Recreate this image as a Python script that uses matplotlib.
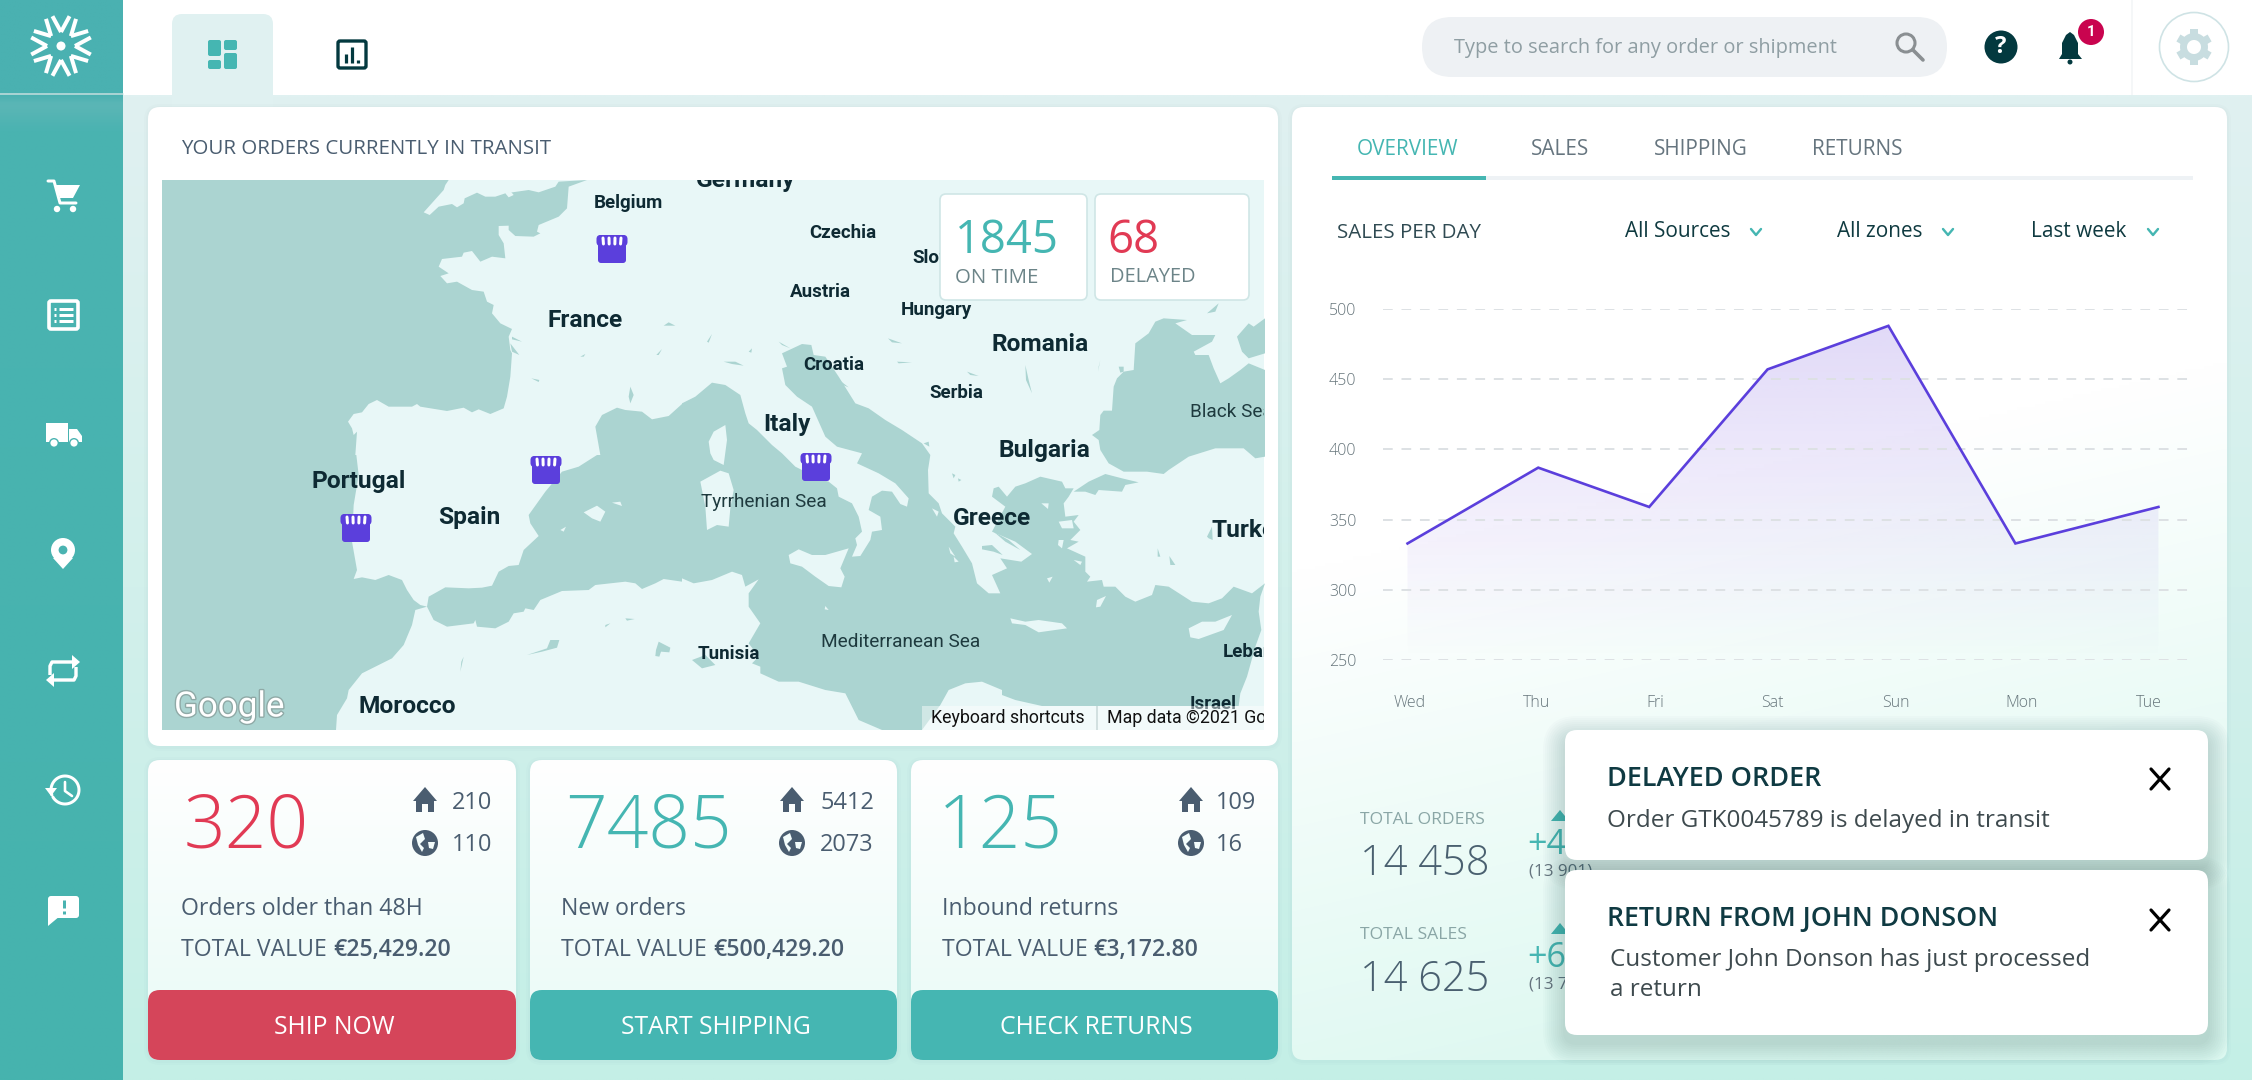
import numpy as np
import matplotlib
matplotlib.use("Agg")
import matplotlib.pyplot as plt
import matplotlib.patheffects as pe
from matplotlib.patches import FancyBboxPatch, Polygon, Circle, Rectangle
from matplotlib.colors import to_rgb

W, H = 2252, 1080

# chart data
days = ["Wed", "Thu", "Fri", "Sat", "Sun", "Mon", "Tue"]
day_pos = [-0.02, 1.04, 1.94, 2.90, 3.88, 4.91, 6.07]
tick_pos = [0, 1.03, 1.99, 2.94, 3.94, 4.96, 5.99]
sales = [333, 387, 359, 457, 488, 333, 359]
y_ticks = [250, 300, 350, 400, 450, 500]

# card data
card_nums = ["320", "7485", "125"]
card_home = ["210", "5412", "109"]
card_globe = ["110", "2073", "16"]
card_names = ["Orders older than 48H", "New orders", "Inbound returns"]
card_values = ["€25,429.20", "€500,429.20", "€3,172.80"]
card_buttons = ["SHIP NOW", "START SHIPPING", "CHECK RETURNS"]

TEAL = "#4ab3b1"
TEAL2 = "#45b6b2"
RED = "#e13a54"
DARK = "#03393f"
SLATE = "#4a5d70"
PURPLE = "#5b3fdc"
LAND = "#e8f7f7"
WATER = "#abd4d1"
UI = ["Open Sans", "DejaVu Sans"]
MAPF = ["Roboto", "DejaVu Sans"]

fig = plt.figure(figsize=(W / 100, H / 100), dpi=100)
ax = fig.add_axes([0, 0, 1, 1], zorder=0)
ax.set_xlim(0, W)
ax.set_ylim(H, 0)
ax.axis("off")
rend = fig.canvas.get_renderer()


def T(x, y, s, px, color="#000000", ha="left", weight="normal", family=UI, z=6, **kw):
    if family is UI:
        y = y + 4.5 + 0.05 * px
    return ax.text(x, y, s, fontsize=px * 0.72, color=color, ha=ha, va="center",
                   fontweight=weight, family=family, zorder=z, **kw)


def rbox(x0, y0, x1, y1, r, fc, ec="none", lw=0, z=1, alpha=None):
    p = FancyBboxPatch((x0, y0), x1 - x0, y1 - y0, boxstyle=f"round,pad=0,rounding_size={r}",
                       fc=fc, ec=ec, lw=lw, zorder=z, alpha=alpha)
    ax.add_patch(p)
    return p


def grad(x0, y0, x1, y1, stops, r=0, z=1, diag=0.0):
    # stops are (pos, colour) going down the box, diag tilts them to the right
    v, u = np.mgrid[0:1:300j, 0:1:100j]
    t = np.clip(v + diag * (u - 0.5), 0, 1)
    cols = np.array([to_rgb(c) for _, c in stops])
    pos = [p for p, _ in stops]
    img = np.stack([np.interp(t, pos, cols[:, i]) for i in range(3)], axis=2)
    im = ax.imshow(img, extent=(x0, x1, y1, y0), aspect="auto", origin="upper", zorder=z,
                   interpolation="bilinear")
    if r:
        clip = rbox(x0, y0, x1, y1, r, "none", z=z)
        im.set_clip_path(clip)
    ax.set_xlim(0, W)
    ax.set_ylim(H, 0)
    return im


def shadow(x0, y0, x1, y1, r, dy, spread, a, z, col="#0f3a40"):
    for i in range(spread, 0, -2):
        rbox(x0 - i, y0 - i + dy, x1 + i, y1 + i + dy, r + i, col, z=z, alpha=a)


def line(xs, ys, c, lw, z=6, cap="round"):
    ax.plot(xs, ys, color=c, lw=lw * 0.72, solid_capstyle=cap, solid_joinstyle="round", zorder=z)


def fillp(pts, c, z=6):
    ax.add_patch(Polygon(pts, closed=True, fc=c, ec="none", zorder=z))


def circ(x, y, r, c, z=6, ec="none", lw=0):
    ax.add_patch(Circle((x, y), r, fc=c, ec=ec, lw=lw, zorder=z))


# page, top bar, sidebar
grad(0, 95, W, H, [(0, "#e0f1f1"), (1, "#c4efe6")], z=0)
ax.add_patch(Rectangle((123, 0), W - 123, 95, fc="white", ec="none", zorder=0.5))
grad(0, 0, 123, H, [(0, "#4ab1b1"), (0.087, "#4ab1b1"), (0.095, "#5cb6b6"), (0.12, TEAL), (1, "#46b3ae")], z=0.6)
line([0, 123], [94, 94], "#c7dfdf", 1.5, z=1)
ax.add_patch(Rectangle((2131, 0), 2, 95, fc="#f5f7f8", ec="none", zorder=0.7))

# logo
for a in np.arange(0, 360, 45):
    rad = np.radians(a)
    tip = (61 + 14 * np.sin(rad), 46 - 14 * np.cos(rad))
    for d in (-16, 16):
        rd = np.radians(a + d)
        line([tip[0], 61 + 31 * np.sin(rd)], [tip[1], 46 - 31 * np.cos(rd)], "white", 4, z=2, cap="butt")
circ(61, 46, 4.5, "white", z=2)

# tabs
rbox(172, 14, 273, 120, 10, "#e0f1f1", z=0.8)
for (x0, y0, x1, y1) in [(208, 40, 221, 56), (224, 40, 237, 50), (208, 60, 221, 69), (224, 53, 237, 69)]:
    rbox(x0, y0, x1, y1, 2, TEAL2, z=2)
rbox(338, 41, 366, 68, 2, "none", ec=DARK, lw=2.4, z=2)
for x, y in [(346, 54), (352, 47), (358, 60)]:
    line([x, x], [y, 63], DARK, 3.2, z=2, cap="butt")

# search and top right icons
rbox(1422, 17, 1947, 77, 30, "#eef1f4", z=2)
T(1454, 42, "Type to search for any order or shipment", 20, "#8f9ea3", z=3)
ax.add_patch(Circle((1906, 43), 9, fc="none", ec="#8a8f92", lw=2.2, zorder=3))
line([1913, 1923], [50, 60], "#8a8f92", 3.6, z=3)
circ(2001, 47, 16.5, DARK, z=3)
T(2001, 41.5, "?", 24, "white", ha="center", weight="bold", z=4)
fillp([(2059, 59), (2062, 54), (2062, 43), (2066, 35), (2070, 32), (2074, 35), (2078, 43), (2078, 54), (2082, 59)], DARK, z=3)
circ(2070, 62, 2.5, DARK, z=3)
circ(2091, 32, 13, "#c9044f", z=4)
T(2091, 32, "1", 15, "white", ha="center", weight="bold", family=MAPF, z=5)
ax.add_patch(Circle((2194, 47), 34.5, fc="white", ec="#cfe3e5", lw=1.2, zorder=3))
for a in range(0, 360, 60):
    rad = np.radians(a)
    line([2194 + 10 * np.sin(rad), 2194 + 18 * np.sin(rad)], [47 - 10 * np.cos(rad), 47 - 18 * np.cos(rad)], "#c8dde0", 8, z=4, cap="butt")
ax.add_patch(Circle((2194, 47), 10.5, fc="white", ec="#c8dde0", lw=5, zorder=4))

# sidebar icons
fillp([(55, 185), (80, 185), (73, 198), (60, 198)], "white", z=2)
line([48, 54, 60, 76], [181, 181, 203, 203], "white", 3, z=2)
circ(57, 209, 3.2, "white", z=2)
circ(73, 209, 3.2, "white", z=2)
rbox(49, 301, 78, 329, 2, "none", ec="white", lw=2.6, z=2)
for yy in (309, 315, 321):
    line([54, 56], [yy, yy], "white", 3, z=2, cap="butt")
    line([59, 73], [yy, yy], "white", 3, z=2, cap="butt")
ax.add_patch(Rectangle((46, 423), 22, 19, fc="white", ec="none", zorder=2))
fillp([(69, 429), (77, 429), (82, 436), (82, 442), (69, 442)], "white", z=2)
for xx in (54, 74):
    circ(xx, 443, 5, TEAL, z=2.1)
    circ(xx, 443, 3.6, "white", z=2.2)
fillp([(53, 558), (63, 569), (73, 558)], "white", z=2)
circ(63, 550, 12, "white", z=2)
circ(63, 550, 4.4, TEAL, z=3)
line([50, 50, 52, 74], [675, 666, 662, 662], "white", 3.4, z=2, cap="butt")
fillp([(72, 655), (80, 662), (72, 669)], "white", z=2)
line([76, 76, 74, 52], [667, 676, 680, 680], "white", 3.4, z=2, cap="butt")
fillp([(54, 673), (46, 680), (54, 687)], "white", z=2)
th = np.radians(np.linspace(-200, 150, 50))
line(65 + 14 * np.cos(th), 790 + 14 * np.sin(th), "white", 3, z=2)
fillp([(45, 788), (57, 788), (51, 796)], "white", z=2)
line([65, 65, 72], [782, 791, 796], "white", 2.6, z=2)
rbox(48, 896, 79, 918, 3, "white", z=2)
fillp([(48, 914), (48, 926), (60, 916)], "white", z=2)
line([63.5, 63.5], [900, 908], TEAL, 3, z=3, cap="butt")
line([63.5, 63.5], [911, 914], TEAL, 3, z=3, cap="butt")

# map card
shadow(148, 107, 1278, 746, 12, 1, 4, 0.01, 0.9)
rbox(148, 107, 1278, 746, 12, "white", z=1)
T(181, 143, "YOUR ORDERS CURRENTLY IN TRANSIT", 20.5, SLATE, weight="medium")


def crop(ox, oy, pts):
    return [(ox + x / 3, oy + y / 3) for x, y in pts]


def cA(pts):
    return crop(162, 180, pts)


def cB(pts):
    return crop(162, 455, pts)


def cC(pts):
    return crop(682, 300, pts)


def cD(pts):
    return crop(982, 300, pts)


def mz(pts):
    return [(130 + x / 1.34, 110 + y / 2.45) for x, y in pts]


atlantic = cA([(0, 0), (860, 0), (850, 15), (845, 30), (785, 97), (803, 105), (830, 80), (870, 72), (885, 82), (905, 70),
               (908, 55), (945, 38), (970, 50), (1000, 50), (1030, 40), (1100, 30), (1130, 37), (1180, 20), (1190, 5),
               (1275, 0), (1220, 20), (1215, 85), (1190, 110), (1130, 135), (1125, 155), (1135, 160), (1115, 170),
               (1060, 168), (1040, 150), (1040, 137), (1010, 138), (1010, 165), (1025, 190), (1030, 235), (990, 230),
               (955, 245), (930, 213), (905, 218), (900, 230), (840, 237), (830, 260), (860, 280), (835, 288), (855, 310),
               (885, 305), (930, 330), (965, 335), (975, 365), (995, 375), (990, 400), (1015, 430), (1050, 447), (1040, 470),
               (1045, 510), (1050, 520), (1045, 590), (1035, 650), (1025, 685), (985, 702), (950, 688), (930, 697),
               (905, 683), (855, 693), (775, 680), (765, 672), (750, 680), (680, 680), (645, 660), (620, 672), (600, 697),
               (575, 702), (558, 725), (570, 745), (575, 765), (585, 755), (580, 825)]) + \
    cB([(583, 0), (590, 60), (575, 150), (570, 260), (585, 345), (575, 372), (600, 367), (640, 375), (680, 360), (720, 375),
        (735, 405), (755, 435), (775, 450), (795, 455), (760, 465), (750, 510), (725, 570), (690, 610), (640, 635),
        (600, 655), (560, 705), (555, 730), (525, 780), (522, 825), (0, 825)])
med = cB([(795, 455), (800, 425), (850, 397), (920, 400), (960, 398), (990, 392), (1010, 350), (1040, 333), (1070, 330),
          (1085, 285), (1130, 243), (1105, 205), (1100, 180), (1150, 110), (1200, 50), (1250, 35), (1305, 0)]) + \
    cA([(1315, 825), (1300, 740), (1320, 705), (1365, 683), (1390, 690), (1440, 695), (1470, 718), (1520, 708), (1560, 672)]) + \
    cC([(0, 310), (40, 290), (90, 248), (130, 255), (175, 285), (190, 340), (200, 370), (225, 390), (270, 435), (300, 460),
        (340, 500), (420, 540), (440, 545), (465, 565), (470, 590), (510, 610), (530, 650), (540, 695), (520, 715), (525, 735),
        (510, 770), (535, 768), (565, 720), (570, 695), (600, 690), (595, 650), (560, 630), (570, 590), (600, 572), (630, 575),
        (655, 612), (675, 620), (680, 595), (640, 550), (590, 520), (525, 490), (540, 460), (465, 440), (430, 410), (390, 320),
        (345, 290), (310, 255), (300, 205), (315, 200), (300, 160), (360, 132), (388, 135), (395, 165), (430, 170), (470, 230),
        (520, 310), (560, 325), (610, 360), (660, 390), (720, 430), (745, 465), (738, 510), (740, 580), (770, 610), (780, 640),
        (820, 680), (815, 700), (840, 740), (870, 790), (885, 850)]) + \
    cD([(20, 880), (55, 880), (30, 825), (75, 805), (55, 775), (118, 785), (150, 762), (100, 725), (30, 695), (70, 620),
        (30, 590), (35, 565), (50, 560), (75, 590), (100, 560), (130, 550), (175, 530), (240, 545), (250, 565), (275, 565),
        (260, 590), (245, 610), (250, 650), (290, 645), (275, 665), (295, 690), (265, 720), (290, 725), (255, 745), (310, 770),
        (310, 815), (325, 830), (315, 845), (360, 840), (365, 860), (400, 860), (430, 890), (460, 905), (510, 885), (520, 855),
        (560, 860), (630, 905), (680, 910), (720, 895), (755, 860), (810, 880), (849, 850), (835, 890), (830, 935), (838, 990),
        (820, 1040), (795, 1130), (775, 1180), (770, 1218), (180, 1218), (100, 1200), (60, 1185), (60, 1170), (0, 1145)]) + \
    cC([(850, 1150), (800, 1170), (775, 1215), (720, 1290), (600, 1290), (530, 1260), (490, 1180), (430, 1170), (350, 1145),
        (290, 1145), (235, 1120), (235, 1100), (210, 1090), (230, 1070), (200, 1030), (235, 970), (200, 920), (200, 880),
        (230, 838), (190, 860), (180, 825), (150, 815), (90, 840), (35, 850), (0, 835)]) + \
    cB([(1560, 380), (1505, 372), (1480, 385), (1440, 402), (1420, 385), (1390, 380), (1300, 390), (1280, 405), (1200, 408),
        (1135, 435), (1115, 465), (1090, 460), (1085, 470), (1055, 475), (1040, 500), (1000, 520), (945, 515), (940, 495),
        (935, 505), (855, 515), (815, 495)])
black_sea = cD([(330, 405), (352, 390), (355, 345), (365, 332), (390, 332), (395, 260), (405, 235), (425, 215), (455, 210),
                (460, 130), (500, 100), (520, 65), (545, 55), (615, 60), (580, 70), (630, 105), (700, 105), (690, 125),
                (635, 155), (640, 165), (680, 165), (695, 205), (715, 250), (740, 235), (775, 210), (800, 190), (849, 210),
                (849, 470), (820, 475), (785, 445), (700, 445), (620, 470), (560, 510), (545, 522), (495, 515), (425, 515),
                (380, 490), (355, 450), (350, 420)])
azov = cD([(765, 110), (800, 70), (815, 80), (849, 55), (849, 160), (800, 175), (780, 155)])
marmara = cD([(275, 575), (320, 545), (370, 522), (420, 535), (470, 547), (430, 555), (420, 575), (350, 570), (340, 585), (310, 575)])
islands = [cC([(130, 375), (135, 420), (125, 495), (95, 480), (85, 460), (80, 425), (95, 395)]),
           cC([(115, 512), (140, 520), (155, 570), (145, 625), (140, 680), (105, 675), (75, 690), (70, 620), (55, 545)]),
           cC([(320, 765), (350, 748), (390, 765), (430, 765), (500, 745), (475, 805), (488, 830), (478, 862), (440, 858),
               (400, 830), (360, 800), (325, 790)]),
           cC([(430, 918), (440, 930), (428, 928)]), cC([(750, 625), (770, 635), (765, 650)]),
           cC([(800, 740), (820, 770), (805, 760)]), cC([(815, 770), (830, 785), (818, 787)]),
           cB([(1265, 172), (1305, 152), (1330, 170), (1315, 200), (1290, 190)]),
           cB([(1350, 143), (1375, 140), (1380, 153)]), cB([(1195, 225), (1212, 215), (1205, 230)]),
           cD([(85, 955), (130, 965), (170, 960), (240, 970), (255, 985), (170, 997), (130, 975), (90, 970)]),
           cD([(620, 985), (660, 965), (700, 965), (750, 945), (725, 990), (650, 1017), (625, 1012)]),
           cD([(345, 900), (372, 888), (355, 920), (342, 922)]), cD([(178, 610), (200, 610), (198, 627)]),
           cD([(230, 665), (270, 660), (275, 685), (240, 685)]), cD([(230, 720), (245, 720), (240, 745), (228, 735)]),
           cD([(275, 780), (300, 785), (295, 795)]), cD([(195, 835), (212, 830), (202, 848)]),
           cA([(1030, 40), (1045, 33), (1055, 45), (1040, 52)])]
lakes = [cA([(1505, 437), (1520, 427), (1540, 437)]), cA([(1483, 525), (1500, 507), (1490, 525)]),
         cA([(1255, 530), (1270, 522), (1265, 530)]), cA([(1108, 595), (1132, 600), (1130, 606)]),
         cA([(1405, 620), (1415, 645), (1405, 670), (1400, 650)]), cA([(1050, 470), (1080, 485), (1050, 478)]),
         cA([(1045, 490), (1072, 525), (1050, 515)]),
         cB([(1095, 600), (1155, 580), (1165, 555), (1192, 555), (1185, 578), (1140, 590)]),
         cB([(1330, 510), (1345, 505), (1330, 517)]), cB([(1390, 490), (1418, 492), (1395, 497)]),
         cB([(1490, 560), (1525, 578), (1522, 592), (1497, 590), (1492, 605), (1480, 603), (1482, 585)]),
         cB([(905, 605), (895, 650), (898, 620)]),
         cC([(75, 125), (90, 102), (80, 128)]), cC([(290, 125), (325, 145), (300, 135)]),
         cC([(125, 185), (160, 185), (185, 197), (150, 192)]), cC([(618, 115), (660, 130), (630, 127)]),
         cC([(645, 185), (690, 187), (650, 190)]), cC([(200, 155), (210, 145), (208, 158)]),
         cC([(855, 215), (890, 228), (865, 225)]), cC([(30, 1080), (70, 1065), (100, 1095), (60, 1105)]),
         cC([(725, 430), (740, 425), (742, 440)]), cC([(810, 520), (820, 525), (815, 535)]),
         cC([(828, 535), (838, 540), (830, 545)]), cC([(465, 235), (500, 262), (470, 250)]),
         cD([(130, 195), (140, 240), (150, 280), (132, 240)]), cD([(348, 215), (355, 180), (350, 200)]),
         cD([(410, 200), (425, 200), (425, 215), (415, 218)]), cD([(675, 710), (690, 680), (692, 720), (680, 715)]),
         cD([(527, 745), (535, 770), (527, 770)]), cD([(562, 768), (580, 795), (565, 795)]),
         cD([(675, 40), (710, 10), (700, 35)]), cD([(0, 738), (30, 735), (62, 765), (35, 755), (0, 748)]),
         cD([(35, 695), (80, 720), (115, 750), (70, 725)])]

ax.add_patch(Rectangle((162, 180), 1102, 550, fc=LAND, ec="none", zorder=2))
for pts in [atlantic, med, black_sea, azov, marmara]:
    fillp(pts, WATER, z=2.1)
for pts in islands:
    fillp(pts, LAND, z=2.2)
for pts in lakes:
    fillp(pts, WATER, z=2.2)

map_clip = Rectangle((162, 180), 1102, 550, transform=ax.transData)
big_labels = [("France", 610, 513), ("Romania", 1220, 572), ("Italy", 880, 767), ("Bulgaria", 1226, 832),
              ("Portugal", 307, 908), ("Spain", 455, 997), ("Greece", 1155, 998), ("Turkey", 1501, 1028),
              ("Morocco", 371, 1460), ("Germany", 825, 170)]
small_labels = [("Belgium", 668, 225), ("Czechia", 955, 300), ("Slovakia", 1096, 360), ("Austria", 925, 443),
                ("Hungary", 1080, 488), ("Croatia", 943, 622), ("Serbia", 1107, 691), ("Tunisia", 802, 1330),
                ("Lebanon", 1513, 1325), ("Israel", 1452, 1452)]
sea_labels = [("Tyrrhenian Sea", 850, 958), ("Mediterranean Sea", 1033, 1302), ("Black Sea", 1476, 737)]
for group, px, wt, col in [(big_labels, 24.5, "bold", "#0e2a33"), (small_labels, 18.8, "bold", "#0e2a33"),
                           (sea_labels, 19, "normal", "#1e3a3e")]:
    for name, zx, zy in group:
        (mx, my), = mz([(zx, zy)])
        t = T(mx, my + 1, name, px, col, ha="center", weight=wt, family=MAPF, z=3)
        t.set_clip_path(map_clip)
        t.set_clip_on(True)

# store pins on the map
for sx, sy in [(612, 249), (546, 470), (816, 467), (356, 528)]:
    rbox(sx - 14, sy - 14, sx + 14, sy + 14, 3, PURPLE, z=3.2)
    rbox(sx - 15.5, sy - 14, sx + 15.5, sy - 3, 4, PURPLE, z=3.3)
    for dx in (-9, -3, 3, 9):
        line([sx + dx, sx + dx * 0.95], [sy - 11, sy - 5], "white", 3, z=3.4)

T(174, 707, "Google", 35, "white", family=MAPF, z=3,
  path_effects=[pe.withStroke(linewidth=2, foreground="#8fa9a6")])
ax.add_patch(Rectangle((922, 706), 342, 24, fc="white", ec="none", alpha=0.45, zorder=3))
line([1097, 1097], [706, 730], "#c8d8d8", 1.5, z=3.2, cap="butt")
T(931, 718, "Keyboard shortcuts", 17.8, "#111111", family=MAPF, z=3.5)
t = T(1107, 718, "Map data ©2021 Google", 17.8, "#111111", family=MAPF, z=3.5)
t.set_clip_path(map_clip)
t.set_clip_on(True)

# kpi boxes over the map
for x0, x1 in [(940, 1087), (1095, 1249)]:
    rbox(x0, 194, x1, 300, 6, "white", ec="#cfe6e6", lw=1.2, z=4)
T(955, 234, "1845", 45.5, TEAL2, z=5)
T(955, 272, "ON TIME", 20.5, "#6c8488", z=5)
T(1107, 234, "68", 45.5, RED, z=5)
T(1110, 272, "DELAYED", 20, "#6c8488", z=5)


def home(x, y):
    fillp([(x, y - 13), (x + 12, y + 1), (x + 9, y + 1), (x + 9, y + 12), (x + 3, y + 12), (x + 3, y + 4),
           (x - 3, y + 4), (x - 3, y + 12), (x - 9, y + 12), (x - 9, y + 1), (x - 12, y + 1)], SLATE)


def globe(x, y):
    circ(x, y, 13, SLATE)
    fillp([(x - 9, y - 6), (x - 2, y - 10), (x, y - 4), (x - 5, y + 1), (x - 1, y + 5), (x - 3, y + 9), (x - 7, y + 2)], "#f4fdfc", z=7)
    fillp([(x + 3, y - 1), (x + 10, y - 1), (x + 8, y + 6), (x + 4, y + 5)], "#f4fdfc", z=7)


# small cards
card_x = [(148, 516), (530, 897), (911, 1278)]
num_x = [184, 565, 938]
name_x = [181, 561, 942]
icon_x = [425, 792, 1191]
cnt_x = [452, 820, 1216]
btn_col = ["#d5455a", TEAL2, TEAL2]
num_col = [RED, TEAL2, TEAL2]
for i, (x0, x1) in enumerate(card_x):
    shadow(x0, 760, x1, 1060, 12, 1, 4, 0.012, 0.9)
    grad(x0, 760, x1, 1060, [(0, "#ffffff"), (1, "#e8faf6")], r=12, z=1)
    T(num_x[i], 820, card_nums[i], 73, num_col[i], weight="light")
    home(icon_x[i], 800)
    globe(icon_x[i], 843)
    T(cnt_x[i], 797, card_home[i], 23.5, SLATE)
    T(cnt_x[i], 839, card_globe[i], 23.5, SLATE)
    T(name_x[i], 903, card_names[i], 23, SLATE)
    lab = T(name_x[i], 944, "TOTAL VALUE", 23, SLATE)
    T(name_x[i] + lab.get_window_extent(rend).width + 6, 944, card_values[i], 23, SLATE, weight="semibold")
    rbox(x0, 990, x1, 1060, 12, btn_col[i], z=2)
    T((x0 + x1) / 2 + 2, 1022, card_buttons[i], 24.7, "white", ha="center")

# right panel
shadow(1292, 107, 2227, 1060, 12, 1, 4, 0.012, 0.9)
grad(1292, 107, 2227, 1060, [(0, "#ffffff"), (0.38, "#ffffff"), (1, "#dcf8f0")], r=12, z=1, diag=0.22)
tabs = [("OVERVIEW", 1357, TEAL2), ("SALES", 1531, "#66757f"), ("SHIPPING", 1654, "#66757f"), ("RETURNS", 1812, "#66757f")]
for name, x, c in tabs:
    T(x, 144, name, 20.8, c)
ax.add_patch(Rectangle((1332, 176), 861, 4, fc="#eef2f5", ec="none", zorder=2))
ax.add_patch(Rectangle((1332, 176), 154, 4, fc=TEAL2, ec="none", zorder=3))
T(1337, 227, "SALES PER DAY", 20.5, "#2f4a52")
for name, x, cv in [("All Sources", 1625, 1756), ("All zones", 1837, 1948), ("Last week", 2031, 2153)]:
    T(x, 226, name, 20.8, "#0f3a40")
    line([cv - 5, cv, cv + 5], [229, 235, 229], TEAL2, 2.4)

# kpi rows, partly hidden by the toasts
for yl, yv, yd, ys, ya, lab, val, delta, prev in [(818, 859, 842, 871, 815, "TOTAL ORDERS", "14 458", "+4.2%", "(13 901)"),
                                                  (933, 975, 955, 984, 928, "TOTAL SALES", "14 625", "+6.1%", "(13 750)")]:
    T(1360, yl - 3, lab, 17.5, "#8aa6a6")
    T(1360, yv - 2, val, 41.5, "#4a6070", weight="light")
    T(1527, yd - 3, delta, 34, TEAL2)
    T(1529, ys - 5, prev, 17, "#66757f")
    fillp([(1551, ya + 6), (1560, ya - 5), (1569, ya + 6)], TEAL2)

# toasts
for y0, y1 in [(730, 860), (870, 1035)]:
    shadow(1565, y0, 2208, y1, 12, 8, 22, 0.016, 7)
    rbox(1565, y0, 2208, y1, 12, "white", z=8)
T(1607, 773, "DELAYED ORDER", 27, "#0f3a42", weight="semibold", z=9)
T(1607, 815, "Order GTK0045789 is delayed in transit", 24.2, "#3e4a4e", z=9)
T(1607, 913, "RETURN FROM JOHN DONSON", 26.7, "#0f3a42", weight="semibold", z=9)
T(1610, 954.5, "Customer John Donson has just processed", 24.2, "#3e4a4e", z=9)
T(1610, 984.5, "a return", 24.2, "#3e4a4e", z=9)
for yc in (779, 920):
    line([2151, 2169], [yc - 10, yc + 10], "black", 3.2, z=9)
    line([2151, 2169], [yc + 10, yc - 10], "black", 3.2, z=9)

# line chart, in its own axes
L, R, TOP, BOT = 1383, 2193, 309, 660
cax = fig.add_axes([L / W, 1 - BOT / H, (R - L) / W, (BOT - TOP) / H], zorder=1)
cax.patch.set_alpha(0)
xlo, xhi = (L - 1410) / 123.3, (R - 1410) / 123.3
n = 200
rgba = np.zeros((n, 1, 4))
rgba[:, 0, :3] = to_rgb("#6a45dc")
rgba[:, 0, 3] = np.interp(np.linspace(500, 250, n), [250, 488, 500], [0, 0.2, 0.2])
im = cax.imshow(rgba, extent=(xlo, xhi, 250, 500), aspect="auto", origin="upper", zorder=1, interpolation="bilinear")
clip_pts = list(zip(day_pos, sales)) + [(day_pos[-1], 250), (day_pos[0], 250)]
clip_poly = Polygon(clip_pts, closed=True, fc="none", ec="none", transform=cax.transData)
cax.add_patch(clip_poly)
im.set_clip_path(clip_poly)
cax.plot(day_pos, sales, color=PURPLE, lw=1.9, zorder=3, solid_joinstyle="miter", clip_on=False)
cax.set_xlim(xlo, xhi)
cax.set_ylim(250, 500)
cax.set_yticks(y_ticks)
cax.set_xticks(tick_pos)
cax.set_xticklabels(days)
cax.grid(axis="y", color="#dde1e4", lw=1.4, linestyle=(0, (5, 4.5)), zorder=2)
cax.set_axisbelow(False)
cax.grid(axis="x", visible=False)
for s in cax.spines.values():
    s.set_visible(False)
cax.tick_params(axis="both", length=0, labelsize=11.5, labelcolor="#66757b")
cax.tick_params(axis="x", pad=25)
cax.tick_params(axis="y", pad=19)
for lb in cax.get_xticklabels() + cax.get_yticklabels():
    lb.set_family(UI)
    lb.set_fontweight("light")

fig.savefig("out.png", dpi=100)
